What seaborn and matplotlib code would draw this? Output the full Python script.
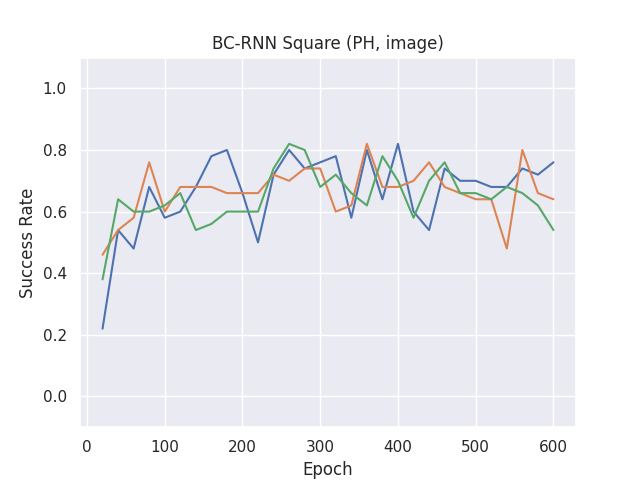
import numpy as np
import pandas as pd
import seaborn as sns
from matplotlib import pyplot as plt

epochs = list(range(20, 601, 20))

run_1 = [0.22, 0.54, 0.48, 0.68, 0.58, 0.60, 0.68, 0.78, 0.80, 0.66,
         0.50, 0.72, 0.80, 0.74, 0.76, 0.78, 0.58, 0.80, 0.64, 0.82,
         0.60, 0.54, 0.74, 0.70, 0.70, 0.68, 0.68, 0.74, 0.72, 0.76]
run_2 = [0.46, 0.54, 0.58, 0.76, 0.60, 0.68, 0.68, 0.68, 0.66, 0.66,
         0.66, 0.72, 0.70, 0.74, 0.74, 0.60, 0.62, 0.82, 0.68, 0.68,
         0.70, 0.76, 0.68, 0.66, 0.64, 0.64, 0.48, 0.80, 0.66, 0.64]
run_3 = [0.38, 0.64, 0.60, 0.60, 0.62, 0.66, 0.54, 0.56, 0.60, 0.60,
         0.60, 0.74, 0.82, 0.80, 0.68, 0.72, 0.66, 0.62, 0.78, 0.70,
         0.58, 0.70, 0.76, 0.66, 0.66, 0.64, 0.68, 0.66, 0.62, 0.54]

df = pd.DataFrame({
    'epoch': epochs * 3,
    'success': run_1 + run_2 + run_3,
    'seed': ['1'] * len(epochs) + ['2'] * len(epochs) + ['3'] * len(epochs),
})

sns.set_theme(style='darkgrid')
fig, ax = plt.subplots(figsize=(6.4, 4.8), dpi=100)

sns.lineplot(data=df, x='epoch', y='success', hue='seed', palette='deep',
             legend=False, ax=ax)

ax.set_ylim(-0.1, 1.1)
ax.set_yticks(np.arange(0.0, 1.01, 0.2))
ax.set_xlabel('Epoch')
ax.set_ylabel('Success Rate')
ax.set_title('BC-RNN Square (PH, image)')

fig.savefig('out.png', dpi=100)
